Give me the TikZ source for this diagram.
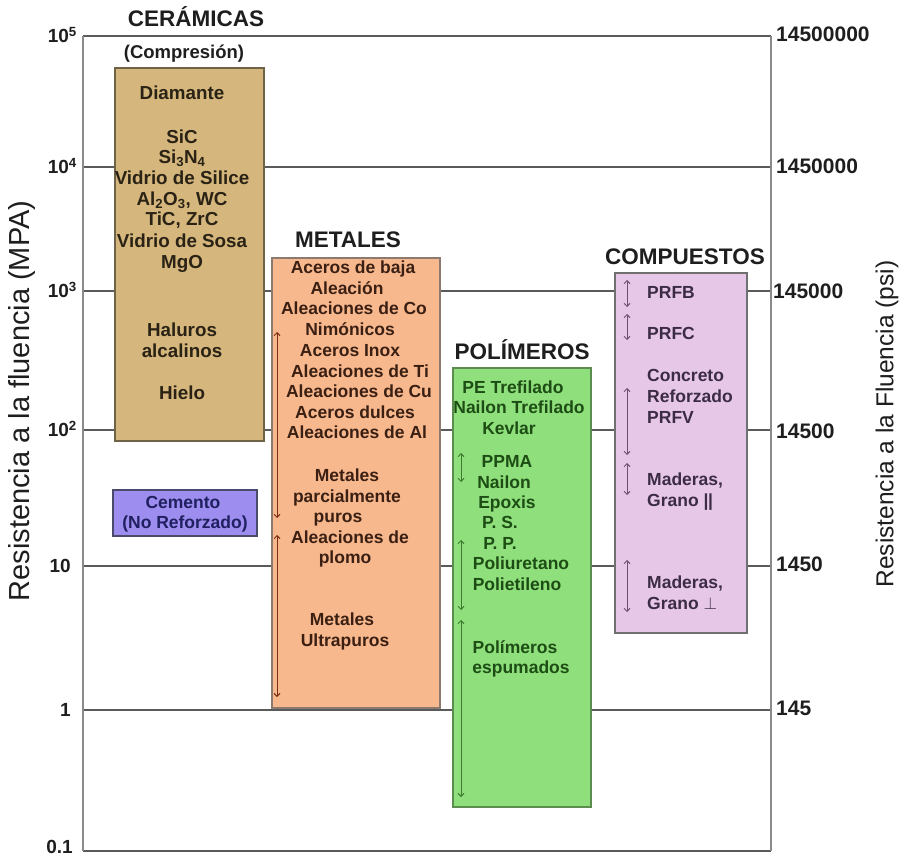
\documentclass[tikz,border=0pt]{standalone}
\usepackage{fontspec}
\setmainfont{Liberation Sans}
\usetikzlibrary{arrows.meta}
\definecolor{gridc}{HTML}{5A5A5A}
\definecolor{axisc}{HTML}{8A8A8A}
\definecolor{titc}{HTML}{1E1E1E}
\definecolor{cerfill}{HTML}{D5B67C}
\definecolor{cerdraw}{HTML}{6E6248}
\definecolor{certext}{HTML}{2A2315}
\definecolor{metfill}{HTML}{F8B88E}
\definecolor{metdraw}{HTML}{8C7A6E}
\definecolor{mettext}{HTML}{3A1F12}
\definecolor{metarrow}{HTML}{7A2E12}
\definecolor{polfill}{HTML}{8FE07C}
\definecolor{poldraw}{HTML}{5C8C50}
\definecolor{poltext}{HTML}{1D4D14}
\definecolor{polarrow}{HTML}{3D7A2E}
\definecolor{comfill}{HTML}{E7C7E7}
\definecolor{comdraw}{HTML}{707070}
\definecolor{comtext}{HTML}{3B2B45}
\definecolor{comarrow}{HTML}{6E4E70}
\definecolor{cemfill}{HTML}{9C8DEE}
\definecolor{cemdraw}{HTML}{4A4A6A}
\definecolor{cemtext}{HTML}{202060}
\begin{document}
\begin{tikzpicture}[x=1pt,y=-1pt,
  item/.style={font=\fontsize{17.5}{20}\selectfont\bfseries, inner sep=0pt, text height=12.6pt, text depth=0pt},
  ceritem/.style={font=\fontsize{18.8}{20}\selectfont\bfseries, inner sep=0pt, text height=13.5pt, text depth=0pt},
  cattitle/.style={font=\fontsize{22.5}{24}\selectfont\bfseries, text=titc, inner sep=0pt, text height=16.2pt, text depth=0pt},
  ticklbl/.style={font=\fontsize{19}{20}\selectfont\bfseries, text=titc, inner sep=0pt, text height=13.7pt, text depth=0pt},
  rticklbl/.style={font=\fontsize{21}{22}\selectfont\bfseries, text=titc, inner sep=0pt, text height=15.1pt, text depth=0pt},
  axtitle/.style={text=titc, inner sep=0pt, rotate=90},
  gridline/.style={draw=gridc, line width=1.3pt},
  axisline/.style={draw=axisc, line width=2.4pt},
  catbox/.style={line width=1.5pt},
  dblarrow/.style={line width=0.9pt, {Straight Barb[length=3pt,width=6pt]}-{Straight Barb[length=3pt,width=6pt]}}
]
\useasboundingbox (0,0) rectangle (901,858);
\fill[white] (0,0) rectangle (901,858);

% grid levels
\foreach \y/\n in {36/5,167/4,291/3,430/2,566/1,710/0,851/m}{
  \coordinate (gl\n) at (83,\y);
  \coordinate (gr\n) at (771,\y);
  \draw[gridline] (gl\n) -- (gr\n);
}
\coordinate (axlt) at (83,36); \coordinate (axlb) at (83,851);
\coordinate (axrt) at (771,36); \coordinate (axrb) at (771,851);
\draw[axisline] (axlt) -- (axlb);
\draw[axisline] (axrt) -- (axrb);

% left tick labels
\node[ticklbl, anchor=east] (t5) at (77,36) {10\textsuperscript{5}};
\node[ticklbl, anchor=east] (t4) at (77,167) {10\textsuperscript{4}};
\node[ticklbl, anchor=east] (t3) at (77,291) {10\textsuperscript{3}};
\node[ticklbl, anchor=east] (t2) at (77,430) {10\textsuperscript{2}};
\node[ticklbl, anchor=east] (t1) at (71,566) {10};
\node[ticklbl, anchor=east] (t0) at (71,710) {1};
\node[ticklbl, anchor=east] (tm) at (73,847) {0.1};

% right tick labels
\node[rticklbl, anchor=west] (r5) at (776,34) {14500000};
\node[rticklbl, anchor=west] (r4) at (776,166) {1450000};
\node[rticklbl, anchor=west] (r3) at (773,291) {145000};
\node[rticklbl, anchor=west] (r2) at (776,431) {14500};
\node[rticklbl, anchor=west] (r1) at (776,564) {1450};
\node[rticklbl, anchor=west] (r0) at (776,708) {145};

% axis titles
\node[axtitle, font=\fontsize{29}{31}\selectfont] (ylabl) at (22,401) {Resistencia a la fluencia (MPA)};
\node[axtitle, font=\fontsize{24.5}{26}\selectfont] (ylabr) at (887,424) {Resistencia a la Fluencia (psi)};

% boxes
\draw[catbox, draw=cerdraw, fill=cerfill] (115,68) rectangle (264,441);
\draw[catbox, draw=metdraw, fill=metfill] (272,258) rectangle (440,708);
\draw[catbox, draw=poldraw, fill=polfill] (453,368) rectangle (591,807);
\draw[catbox, draw=comdraw, fill=comfill] (615,273) rectangle (747,633);
\draw[catbox, draw=cemdraw, fill=cemfill] (113,490) rectangle (257,536);

% titles
\node[cattitle] (tcer) at (196,18) {CERÁMICAS};
\node[item, text=titc, font=\fontsize{18.5}{20}\selectfont\bfseries] (tcomp) at (184,52) {(Compresión)};
\node[cattitle] (tmet) at (348,239) {METALES};
\node[cattitle] (tpol) at (522,351) {POLÍMEROS};
\node[cattitle] (tcom) at (685,256) {COMPUESTOS};

% ceramics
\foreach \t/\y [count=\i] in {Diamante/93, SiC/137, {Si\textsubscript{3}N\textsubscript{4}}/157, {Vidrio de Silice}/178, {Al\textsubscript{2}O\textsubscript{3}, WC}/199, {TiC, ZrC}/219, {Vidrio de Sosa}/241, MgO/262, Haluros/330, alcalinos/351, Hielo/393}
  \node[ceritem, text=certext, name=cer\i] at (182,\y) {\t};

% cement
\node[item, text=cemtext] (cem1) at (183,502) {Cemento};
\node[item, text=cemtext] (cem2) at (185,522) {(No Reforzado)};

% metals
\foreach \t/\x/\y [count=\i] in {{Aceros de baja}/353/267, Aleación/347/288, {Aleaciones de Co}/354/308, Nimónicos/350/329, {Aceros Inox}/350/350, {Aleaciones de Ti}/360/371, {Aleaciones de Cu}/359/391, {Aceros dulces}/355/412, {Aleaciones de Al}/357/432, Metales/347/475, parcialmente/347/496, puros/338/516, {Aleaciones de}/350/537, plomo/345/557, Metales/342/619, Ultrapuros/345/640}
  \node[item, text=mettext, name=met\i] at (\x,\y) {\t};

% polymers
\foreach \t/\x/\y [count=\i] in {{PE Trefilado}/513/387, {Nailon Trefilado}/519/407, Kevlar/509/428, PPMA/507/461, Nailon/504/482, Epoxis/507/502, {P. S.}/500/522, {P. P.}/500/543, Poliuretano/521/563, Polietileno/517/584, Polímeros/515/647, espumados/521/667}
  \node[item, text=poltext, name=pol\i] at (\x,\y) {\t};

% composites
\foreach \t/\y [count=\i] in {PRFB/292, PRFC/333, Concreto/375, Reforzado/396, PRFV/417, {Maderas,}/479, {Grano |\kern-0.5pt|}/500, {Maderas,}/582, {Grano $\perp$}/603}
  \node[item, text=comtext, anchor=west, name=com\i] at (647,\y) {\t};

% arrows
\foreach \x/\a/\b [count=\i] in {277/332/518, 277/535/697}{
  \coordinate (ma\i) at (\x,\a); \coordinate (mb\i) at (\x,\b);
  \draw[dblarrow, draw=metarrow] (ma\i) -- (mb\i);
}
\foreach \x/\a/\b [count=\i] in {461/453/482, 461/540/610, 461/620/797}{
  \coordinate (pa\i) at (\x,\a); \coordinate (pb\i) at (\x,\b);
  \draw[dblarrow, draw=polarrow] (pa\i) -- (pb\i);
}
\foreach \x/\a/\b [count=\i] in {627/280/307, 627/314/340, 627/388/455, 627/463/495, 627/560/612}{
  \coordinate (ca\i) at (\x,\a); \coordinate (cb\i) at (\x,\b);
  \draw[dblarrow, draw=comarrow] (ca\i) -- (cb\i);
}
\end{tikzpicture}
\end{document}
